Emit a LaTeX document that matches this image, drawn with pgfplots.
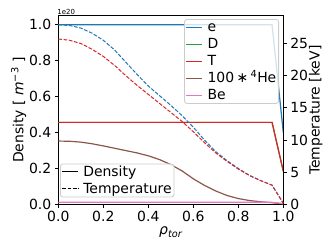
\documentclass[border=0pt]{standalone}
\usepackage{fontspec}
\setmainfont{DejaVu Sans}
\usepackage{pgfplots}
\pgfplotsset{compat=1.18}
\definecolor{c0}{HTML}{1F77B4}
\definecolor{c2}{HTML}{2CA02C}
\definecolor{c3}{HTML}{D62728}
\definecolor{c5}{HTML}{8C564B}
\definecolor{c6}{HTML}{E377C2}
\definecolor{lgd}{HTML}{CCCCCC}

\pgfplotstableread{
rho Te Ti
0.00 27.9 25.7
0.05 27.8 25.5
0.10 27.4 25.0
0.15 26.6 24.1
0.20 25.5 23.0
0.25 24.0 21.6
0.30 22.1 20.0
0.35 20.2 18.5
0.40 18.4 17.1
0.45 16.9 15.7
0.50 15.4 14.3
0.55 13.8 12.9
0.60 12.0 11.3
0.65 10.0 9.6
0.70 8.2 8.0
0.75 6.8 6.7
0.80 5.6 5.5
0.85 4.5 4.5
0.90 3.7 3.7
0.95 3.0 3.0
1.00 0.2 0.2
}\temptable

\pgfplotstableread{
rho He
0.00 0.353
0.05 0.352
0.10 0.347
0.15 0.338
0.20 0.326
0.25 0.313
0.30 0.300
0.35 0.287
0.40 0.271
0.45 0.250
0.50 0.222
0.55 0.187
0.60 0.143
0.65 0.106
0.70 0.075
0.75 0.050
0.80 0.033
0.85 0.022
0.90 0.015
0.95 0.010
1.00 0.004
}\hetable

\pgfplotsset{
  mylegend/.style={
    draw=lgd, line width=0.8bp, fill=white, fill opacity=0.8, text opacity=1,
    rounded corners=2.5bp, inner xsep=1.3bp, inner ysep=0.5bp, row sep=2bp, column sep=3.5bp,
    nodes={inner xsep=1bp, inner ysep=0bp},
    /tikz/every even column/.style={nodes={text height=12bp, text depth=3bp}},
    font=\fontsize{14}{16}\selectfont, cells={anchor=west}
  },
  myimg/.style={legend image code/.code={%
    \path[draw=none, fill=none] (0bp,-0.6bp) rectangle (16bp,3.2bp);
    \draw[##1, draw opacity=1, fill=none, sharp corners] (0bp,0bp) -- (16bp,0bp);}},
}

\begin{document}
\begin{tikzpicture}[font=\fontsize{14}{16.8}\selectfont]
\path[use as bounding box] (-58.3bp,-44.5bp) rectangle (273.7bp,204.5bp);
\begin{axis}[
  name=ax1,
  at={(0,0)}, anchor=south west,
  scale only axis, width=225bp, height=188.7bp,
  xmin=0, xmax=1, ymin=0, ymax=1.05,
  axis line style={line width=0.8bp},
  tick align=outside, major tick length=3.5bp,
  every tick/.style={black, line width=0.8bp},
  xtick={0,0.2,0.4,0.6,0.8,1}, ytick={0,0.2,0.4,0.6,0.8,1},
  xtick pos=bottom, ytick pos=left,
  /pgf/number format/assume math mode=true,
  xticklabel style={/pgf/number format/fixed, /pgf/number format/fixed zerofill, /pgf/number format/precision=1},
  yticklabel style={/pgf/number format/fixed, /pgf/number format/fixed zerofill, /pgf/number format/precision=1},
  tick label style={font=\fontsize{14}{16.8}\selectfont},
  xlabel={\itshape ρ\textsubscript{tor}},
  xlabel style={at={(axis description cs:0.5,-0.1616)}, anchor=base},
  ylabel={Density [ \textit{m}\textsuperscript{−3} ]},
  ylabel style={at={(axis description cs:-0.1547,0.5)}, anchor=base},
  myimg,
  legend style={mylegend, at={(0.981,0.983)}, anchor=north east},
]
\addplot[draw=c0, line width=1.2bp] coordinates {(0,1.0) (0.95,1.0) (1.0,0.40)};
\addlegendentry{e}
\addplot[draw=c2, line width=1.2bp] coordinates {(0,0.457) (0.95,0.457) (1.0,0.185)};
\addlegendentry{D}
\addplot[draw=c3, line width=1.2bp] coordinates {(0,0.457) (0.95,0.457) (1.0,0.185)};
\addlegendentry{T}
\addplot[draw=c5, line width=1.2bp] table[x=rho, y=He] {\hetable};
\addlegendentry{100\,∗\,\textsuperscript{4}He}
\addplot[draw=c6, line width=1.2bp] coordinates {(0,0.012) (0.95,0.012) (1.0,0.005)};
\addlegendentry{Be}
\end{axis}
\node[anchor=base west, font=\fontsize{7}{8}\selectfont, inner sep=0pt] at ([xshift=-1bp, yshift=1.8bp]ax1.north west) {1e20};
\begin{axis}[
  at={(0,0)}, anchor=south west,
  scale only axis, width=225bp, height=188.7bp,
  xmin=0, xmax=1, ymin=0, ymax=29.3,
  axis x line=none, axis y line*=right,
  axis line style={line width=0.8bp, -},
  tick align=outside, major tick length=3.5bp,
  every tick/.style={black, line width=0.8bp},
  ytick={0,5,10,15,20,25},
  /pgf/number format/assume math mode=true,
  tick label style={font=\fontsize{14}{16.8}\selectfont},
  ylabel={Temperature [keV]},
  ylabel style={at={(axis description cs:1.161,0.5)}, anchor=base},
  myimg,
  legend style={mylegend, at={(0.0076,0.038)}, anchor=south west},
]
\addplot[draw=c0, line width=1bp, dash pattern=on 3.7bp off 1.6bp, forget plot] table[x=rho, y=Te] {\temptable};
\addplot[draw=c3, line width=1bp, dash pattern=on 3.7bp off 1.6bp, forget plot] table[x=rho, y=Ti] {\temptable};
\addlegendimage{draw=black, line width=1.1bp}
\addlegendentry{Density}
\addlegendimage{draw=black, line width=1bp, dash pattern=on 3.7bp off 1.6bp}
\addlegendentry{Temperature}
\end{axis}
\end{tikzpicture}
\end{document}
